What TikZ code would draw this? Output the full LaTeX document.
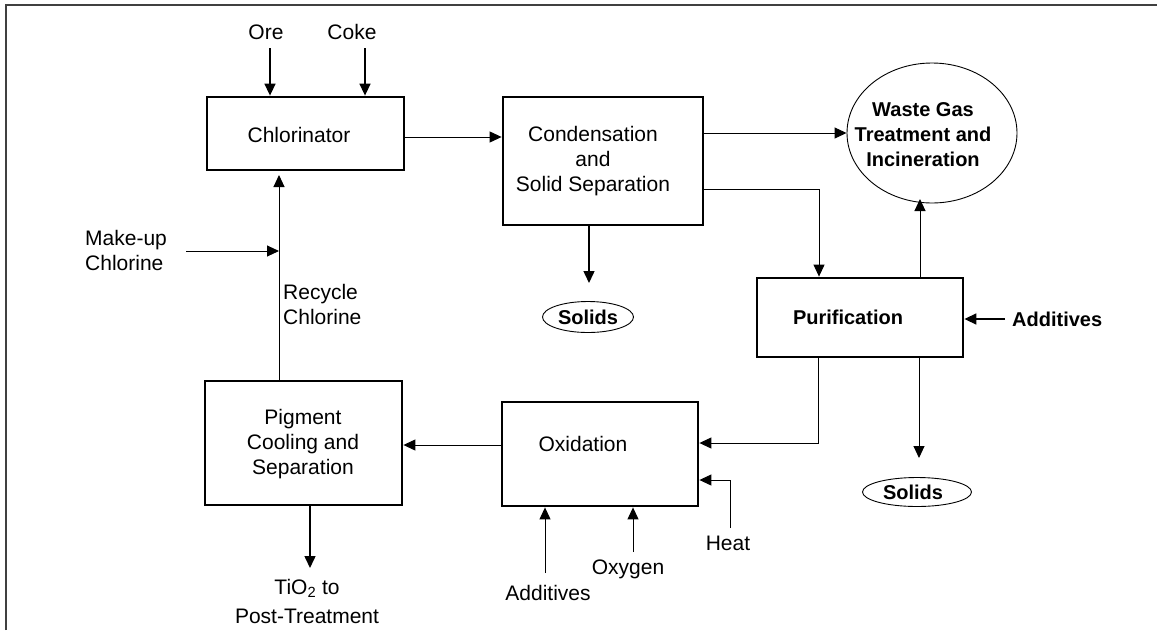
\documentclass[tikz,border=0pt]{standalone}
\usepackage{fontspec}
\setmainfont{Liberation Sans}
\usetikzlibrary{arrows.meta,shapes.geometric}
\begin{document}
\begin{tikzpicture}[x=1pt,y=-1pt,
  box/.style={draw,line width=2.8pt,inner sep=0pt},
  flow/.style={line width=1.5pt,-{Triangle[length=12pt,width=11pt]}},
  thinflow/.style={line width=1pt,-{Triangle[length=12pt,width=11pt]}},
  txt/.style={font=\fontsize{21}{25}\selectfont,inner sep=0pt,align=center},
  btxt/.style={font=\fontsize{20}{25}\selectfont\bfseries,inner sep=0pt,align=center},
  oval/.style={draw,ellipse,line width=0.9pt,inner sep=0pt}]
\useasboundingbox (0,0) rectangle (1157,630);
% frame
\draw[line width=1.4pt,black!75] (6,630) -- (6,5) -- (1157,5);

% boxes
\node[box,minimum width=197pt,minimum height=73pt] (chlor) at (305.5,133.5) {};
\node[box,minimum width=200pt,minimum height=128pt] (cond) at (603,161) {};
\node[box,minimum width=206pt,minimum height=79pt] (puri) at (860,317.5) {};
\node[box,minimum width=196pt,minimum height=104pt] (ox) at (600,454) {};
\node[box,minimum width=197pt,minimum height=124pt] (pig) at (303.5,443) {};
\node[oval,minimum width=170pt,minimum height=140pt] (waste) at (932,133) {};
\node[oval,minimum width=91pt,minimum height=31pt] (sol1) at (588,317) {};
\node[oval,minimum width=109pt,minimum height=29pt] (sol2) at (917,492) {};

% texts
\node[txt] (chlorT) at (299,135) {Chlorinator};
\node[txt] (condT) at (593,161) {Condensation\\and\\Solid Separation};
\node[btxt] (wasteT) at (923,135) {Waste Gas\\Treatment and\\Incineration};
\node[btxt] (puriT) at (848,317) {Purification};
\node[txt] (oxT) at (583,444) {Oxidation};
\node[txt] (pigT) at (303,444) {Pigment\\Cooling and\\Separation};
\node[btxt] (sol1T) at (588,317) {Solids};
\node[btxt] (sol2T) at (913,492) {Solids};
\node[txt] (ore) at (266,32) {Ore};
\node[txt] (coke) at (352,32) {Coke};
\node[txt,align=left,anchor=west] (mk) at (85,250) {Make-up\\Chlorine};
\node[txt,align=left,anchor=west] (rec) at (283,304.5) {Recycle\\Chlorine};
\node[txt] (tio) at (307,601.5) {TiO\textsubscript{2} to\\[4pt]Post-Treatment};
\node[btxt,anchor=west] (addR) at (1012,319) {Additives};
\node[txt] (heat) at (728,543) {Heat};
\node[txt] (oxy) at (628,569) {Oxygen};
\node[txt] (addB) at (548,593) {Additives};

% helper coordinates
\coordinate (oreS) at (270,48);
\coordinate (cokeS) at (365,48);
\coordinate (h137) at (0,137);
\coordinate (h189) at (0,189);
\coordinate (v819) at (819,0);
\coordinate (sol1arr) at (589,283);
\coordinate (v920) at (920,199);
\coordinate (addRs) at (1005,319);
\coordinate (v818) at (818,443);
\coordinate (sol2arr) at (919,458);
\coordinate (heatS) at (730,528);
\coordinate (heatC) at (730,480);
\coordinate (oxyS) at (633,552);
\coordinate (addBs) at (545,573);
\coordinate (h445) at (0,445);
\coordinate (tioE) at (310,568);
\coordinate (recE) at (279,175);
\coordinate (mkS) at (186,251);

% connectors
\draw[flow] (oreS) -- (oreS |- chlor.north);
\draw[flow] (cokeS) -- (cokeS |- chlor.north);
\draw[thinflow] (chlor.east |- h137) -- (cond.west |- h137);
\draw[thinflow] (cond.east |- waste.west) -- (waste.west);
\draw[thinflow] (cond.east |- h189) -| (v819 |- puri.north);
\draw[flow] (sol1arr |- cond.south) -- (sol1arr);
\draw[thinflow] (v920 |- puri.north) -- (v920);
\draw[flow] (addRs) -- (addRs -| puri.east);
\draw[thinflow] (v818 |- puri.south) -- (v818) -- (v818 -| ox.east);
\draw[thinflow] (sol2arr |- puri.south) -- (sol2arr);
\draw[thinflow] (heatS) -- (heatC) -- (heatC -| ox.east);
\draw[thinflow] (oxyS) -- (oxyS |- ox.south);
\draw[thinflow] (addBs) -- (addBs |- ox.south);
\draw[thinflow] (ox.west |- h445) -- (pig.east |- h445);
\draw[flow] (tioE |- pig.south) -- (tioE);
\draw[thinflow] (recE |- pig.north) -- (recE);
\draw[thinflow] (mkS) -- (mkS -| recE);
\end{tikzpicture}
\end{document}
